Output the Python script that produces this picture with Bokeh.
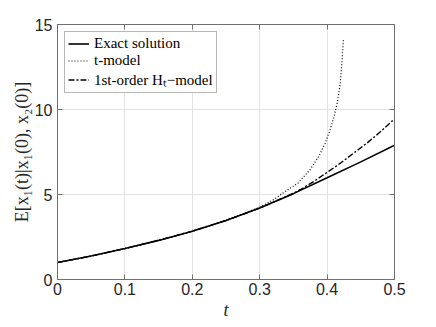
from bokeh.plotting import figure
from bokeh.models import LinearAxis, FixedTicker, Legend, LegendItem, Range1d
from bokeh.embed import file_html
from bokeh.resources import INLINE

# Exact solution
t_exact = [0, 0.05, 0.1, 0.15, 0.2, 0.25, 0.3, 0.35, 0.4, 0.45, 0.5]
exact = [1.0, 1.38, 1.82, 2.3, 2.84, 3.47, 4.2, 5.05, 5.98, 6.92, 7.9]

# t-model
t_tmodel = [0, 0.05, 0.1, 0.15, 0.2, 0.25, 0.3, 0.32, 0.335, 0.3575, 0.375,
            0.387, 0.397, 0.4044, 0.4108, 0.4153, 0.4193, 0.4217, 0.4242]
tmodel = [1.0, 1.38, 1.82, 2.3, 2.84, 3.48, 4.25, 4.68, 5.1, 5.69, 6.47,
          7.2, 8.0, 8.8, 9.65, 10.45, 11.45, 12.6, 14.1]

# 1st-order H_t-model
t_ht = [0, 0.05, 0.1, 0.15, 0.2, 0.25, 0.3, 0.35, 0.36, 0.38, 0.4, 0.42,
        0.44, 0.46, 0.48, 0.5]
ht = [1.0, 1.38, 1.82, 2.3, 2.84, 3.47, 4.2, 5.07, 5.28, 5.76, 6.3, 6.85,
      7.45, 8.05, 8.72, 9.45]

x_ticks = [0, 0.1, 0.2, 0.3, 0.4, 0.5]
y_ticks = [0, 5, 10, 15]

AX = "#262626"
BOX = "#707070"

p = figure(frame_width=337, frame_height=255, output_backend="svg",
           toolbar_location=None, x_range=Range1d(0, 0.5), y_range=Range1d(0, 15),
           min_border_left=57, min_border_right=26, min_border_top=24,
           min_border_bottom=36)
p.background_fill_color = "white"
p.border_fill_color = "white"
p.outline_line_color = BOX
p.outline_line_width = 1

for ax in (p.xaxis[0], p.yaxis[0]):
    ax.major_tick_in = 5
    ax.major_tick_out = 0
    ax.minor_tick_line_color = None
    ax.axis_line_color = BOX
    ax.major_tick_line_color = BOX
    ax.major_label_text_font = "Liberation Sans"
    ax.major_label_text_font_size = "16px"
    ax.major_label_text_color = AX
    ax.axis_label_text_font = "Liberation Serif"
    ax.axis_label_text_color = AX

p.xaxis.ticker = FixedTicker(ticks=x_ticks)
p.yaxis.ticker = FixedTicker(ticks=y_ticks)
p.xaxis.major_label_standoff = 3
p.yaxis.major_label_standoff = 5
p.xaxis.axis_label = "t"
p.xaxis.axis_label_text_font_style = "italic"
p.xaxis.axis_label_text_font_size = "18px"
p.xaxis.axis_label_standoff = 2
p.yaxis.axis_label = "E[x\u2081(t)|x\u2081(0), x\u2082(0)]"
p.yaxis.axis_label_text_font_style = "normal"
p.yaxis.axis_label_text_font_size = "18px"
p.yaxis.axis_label_standoff = 0

# mirror axes (ticks only)
ra = LinearAxis(ticker=FixedTicker(ticks=y_ticks), major_tick_in=5, major_tick_out=0,
                minor_tick_line_color=None, axis_line_color=BOX,
                major_tick_line_color=BOX, major_label_text_color=None,
                major_label_text_font_size="1px", major_label_standoff=0)
ta = LinearAxis(ticker=FixedTicker(ticks=x_ticks), major_tick_in=5, major_tick_out=0,
                minor_tick_line_color=None, axis_line_color=BOX,
                major_tick_line_color=BOX, major_label_text_color=None,
                major_label_text_font_size="1px", major_label_standoff=0)
p.add_layout(ra, "right")
p.add_layout(ta, "above")

p.xgrid.ticker = FixedTicker(ticks=x_ticks)
p.ygrid.ticker = FixedTicker(ticks=y_ticks)
p.grid.grid_line_color = "#e3e3e3"
p.grid.grid_line_width = 1

r1 = p.line(t_exact, exact, line_color="black", line_width=1.6)
r2 = p.line(t_tmodel, tmodel, line_color="black", line_width=1.2, line_dash="1 2")
r3 = p.line(t_ht, ht, line_color="black", line_width=1.4, line_dash="6 2 2 2")

legend = Legend(items=[
    LegendItem(label="Exact solution", renderers=[r1]),
    LegendItem(label="t-model", renderers=[r2]),
    LegendItem(label="1st-order H\u209c\u2212model", renderers=[r3]),
], location="top_left")
legend.margin = 7
legend.padding = 3
legend.spacing = 0
legend.label_height = 17
legend.glyph_height = 17
legend.glyph_width = 21
legend.label_standoff = 5
legend.label_text_font = "Liberation Serif"
legend.label_text_font_size = "15px"
legend.label_text_color = "black"
legend.border_line_color = BOX
legend.border_line_width = 1
legend.background_fill_color = "white"
legend.background_fill_alpha = 1
p.add_layout(legend, "center")

open("out.html", "w").write(file_html(p, INLINE))
